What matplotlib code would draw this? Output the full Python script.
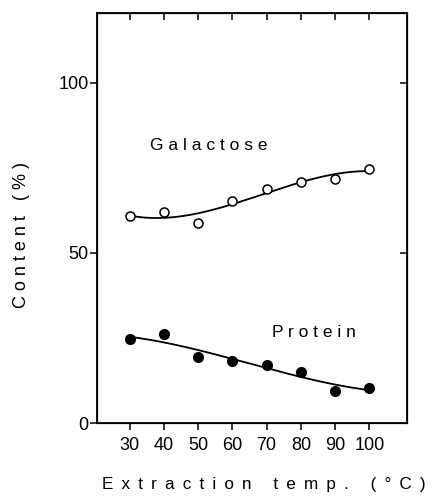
import numpy as np
import matplotlib
matplotlib.use("Agg")
import matplotlib.pyplot as plt

plt.rcParams["font.family"] = ["Liberation Sans", "DejaVu Sans"]

# Data
temps = [30, 40, 50, 60, 70, 80, 90, 100]
galactose = [60.7, 61.9, 58.9, 65.2, 68.7, 70.9, 71.8, 74.6]
protein = [24.6, 26.2, 19.3, 18.2, 17.0, 15.1, 9.5, 10.2]
x_ticks = [30, 40, 50, 60, 70, 80, 90, 100]
y_ticks = [0, 50, 100]


def spaced(s, gap=" \u2009", word="\u2003 "):
    # crude letter spacing for the typewriter-like labels
    return word.join(gap.join(w) for w in s.split(" "))


fig = plt.figure(figsize=(4.33, 4.96), dpi=100)
ax = fig.add_axes([0.224, 0.147, 0.716, 0.827])

# smooth trend lines (cubic fit through the points)
xs = np.linspace(temps[0], temps[-1], 200)
for vals in (galactose, protein):
    coef = np.polyfit(temps, vals, 3)
    ax.plot(xs, np.polyval(coef, xs), color="black", lw=1.3)

ax.plot(temps, galactose, "o", mfc="white", mec="black", mew=1.1, ms=6.5)
ax.plot(temps, protein, "o", mfc="black", mec="black", ms=7)

ax.set_xlim(20.5, 111)
ax.set_ylim(0, 120.5)

ax.set_xticks(x_ticks)
ax.set_yticks(y_ticks)
ax.tick_params(axis="x", direction="out", length=5, width=1.1, pad=5, labelsize=13)
ax.tick_params(axis="y", direction="out", length=5, width=1.1, pad=1, labelsize=13)
for sp in ax.spines.values():
    sp.set_linewidth(1.3)

# inward ticks on the top and right frame
axt = ax.twiny()
axt.set_xlim(ax.get_xlim())
axt.set_xticks(x_ticks)
axt.tick_params(axis="x", direction="in", length=5, width=1.1, labeltop=False)
axr = ax.twinx()
axr.set_ylim(ax.get_ylim())
axr.set_yticks([50, 100])
axr.tick_params(axis="y", direction="in", length=5, width=1.1, labelright=False)

ax.text(36, 81.5, spaced("Galactose", gap=" "), fontsize=12.5, va="center", ha="left")
ax.text(71.5, 26.5, spaced("Protein", gap=" "), fontsize=12.5, va="center", ha="left")

fig.text(264 / 433, 1 - 485 / 496, spaced("Extraction temp. (°C)"),
         fontsize=12.3, ha="center", va="center")
fig.text(22 / 433, 1 - 235 / 496, spaced("Content (%)", gap=" ", word="   "),
         fontsize=13, ha="center", va="center", rotation=90)

fig.savefig("out.png", dpi=100)
